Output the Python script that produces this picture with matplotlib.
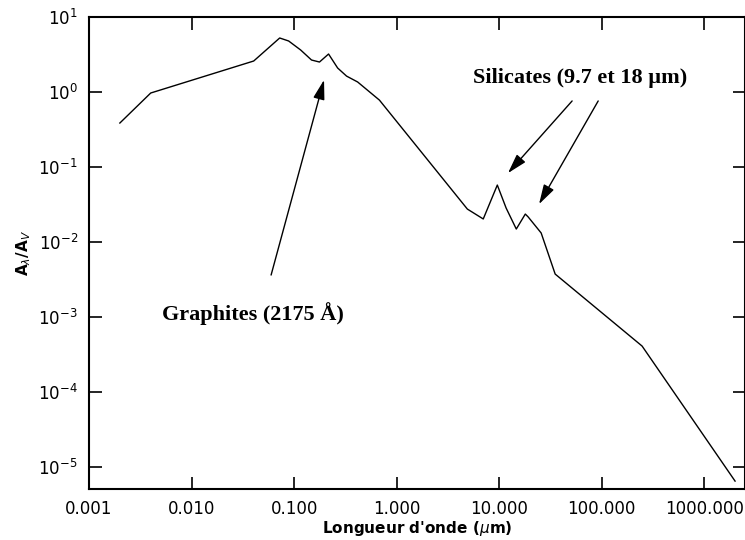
#Import Libraries
import matplotlib
matplotlib.use("Agg")
import matplotlib.pyplot as plt

#Extinction curve (wavelength in micron, A_lambda/A_V)
wavelength = [0.002, 0.004, 0.0404, 0.0724, 0.0885, 0.116, 0.148, 0.177, 0.217,
              0.266, 0.325, 0.417, 0.68, 4.9, 7.0, 9.6, 11.7, 14.7, 18.0, 19.2,
              25.7, 35.2, 248.0, 2000.0]
extinction = [0.386, 0.97, 2.59, 5.25, 4.79, 3.63, 2.67, 2.51, 3.21,
              2.09, 1.63, 1.36, 0.78, 0.0275, 0.0203, 0.0575, 0.0284, 0.0149, 0.0236, 0.0216,
              0.0132, 0.00374, 4.1e-4, 6.5e-6]

x_ticks = [0.001, 0.01, 0.1, 1, 10, 100, 1000]
x_tick_labels = ["0.001", "0.010", "0.100", "1.000", "10.000", "100.000", "1000.000"]
y_ticks = [1e-5, 1e-4, 1e-3, 1e-2, 1e-1, 1e0, 1e1]

#Annotation anchors (data coords): text position and arrow tips
graphite_text = (0.00515, 1.13e-3)
graphite_tail = (0.0597, 3.63e-3)
graphite_tip = (0.196, 1.45)
silicate_text = (61.7, 1.54)
silicate_tails = [(51.5, 0.76), (92.5, 0.76)]
silicate_tips = [(12.2, 0.083), (24.5, 0.032)]

fig = plt.figure(figsize=(7.45, 5.4), dpi=100)
ax = fig.add_axes([89/745, 51/540, 656/745, 472/540])

ax.plot(wavelength, extinction, color="black", linewidth=1.0)
ax.set_xscale("log")
ax.set_yscale("log")
ax.set_xlim(0.001, 2500)
ax.set_ylim(5.1e-6, 10)

ax.set_xticks(x_ticks)
ax.set_xticklabels(x_tick_labels)
ax.set_yticks(y_ticks)
ax.minorticks_off()
ax.tick_params(which="major", direction="in", length=9, width=1.2,
               top=True, right=True, labelsize=12, pad=8)
for s in ax.spines.values():
    s.set_linewidth(1.5)

ax.set_xlabel("Longueur d'onde ($\\mu$m)", fontsize=11, fontweight="bold", labelpad=1)
ax.set_ylabel("A$_\\lambda$/A$_V$", fontsize=11, fontweight="bold", labelpad=4)

arrow = dict(arrowstyle="-|>,head_length=1.2,head_width=0.35", color="black",
             lw=1.0, shrinkA=0, shrinkB=0)
txt = dict(family="Liberation Serif", fontweight="bold", fontsize=16)

ax.annotate("", xy=graphite_tip, xytext=graphite_tail, arrowprops=arrow)
ax.text(graphite_text[0], graphite_text[1], "Graphites (2175 Å)", ha="left", va="center", **txt)

for tail, tip in zip(silicate_tails, silicate_tips):
    ax.annotate("", xy=tip, xytext=tail, arrowprops=arrow)
ax.text(silicate_text[0], silicate_text[1], "Silicates (9.7 et 18 µm)", ha="center", va="center", **txt)

plt.savefig("out.png", dpi=100)
